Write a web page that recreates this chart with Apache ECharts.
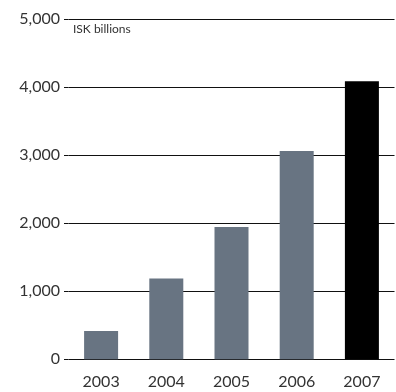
<!DOCTYPE html>
<html>
<head>
<meta charset="utf-8">
<style>
  html, body { margin: 0; padding: 0; background: #fff; }
  #chart { width: 396px; height: 392px; }
</style>
<script src="https://cdn.jsdelivr.net/npm/echarts@6/dist/echarts.min.js"></script>
</head>
<body>
<div id="chart"></div>
<script>
// Annual totals, ISK billions
const years = ['2003', '2004', '2005', '2006', '2007'];
const totals = [415, 1190, 1945, 3065, 4090];
const yTicks = [0, 1000, 2000, 3000, 4000, 5000];
const unitLabel = 'ISK billions';

const grey = '#687482';
const latest = '#000000';

const chart = echarts.init(document.getElementById('chart'), null, { renderer: 'canvas' });

chart.setOption({
  animation: false,
  backgroundColor: '#ffffff',
  textStyle: { fontFamily: 'Lato' },
  grid: { left: 68.5, right: 1.5, top: 19.3, bottom: 32.7, containLabel: false },
  graphic: [{
    type: 'text',
    left: 73,
    top: 23,
    style: { text: unitLabel, fontFamily: 'Lato', fontSize: 12, fill: '#333333' }
  }],
  xAxis: {
    type: 'category',
    data: years,
    axisLine: { show: false },
    axisTick: { show: false },
    axisLabel: { color: '#333333', fontSize: 16, fontFamily: 'Lato', margin: 15 }
  },
  yAxis: {
    type: 'value',
    min: yTicks[0],
    max: yTicks[yTicks.length - 1],
    interval: 1000,
    axisLine: { show: false },
    axisTick: { show: true, length: 4.5, lineStyle: { color: '#111111', width: 1 } },
    splitLine: { show: true, lineStyle: { color: '#111111', width: 1 } },
    axisLabel: {
      color: '#333333',
      fontSize: 16,
      fontFamily: 'Lato',
      margin: 8.5,
      formatter: v => v.toLocaleString('en-US')
    }
  },
  series: [{
    type: 'bar',
    barWidth: 34,
    data: totals.map((v, i) => ({
      value: v,
      itemStyle: { color: i === totals.length - 1 ? latest : grey }
    })),
    z: 3
  }]
});
</script>
</body>
</html>
